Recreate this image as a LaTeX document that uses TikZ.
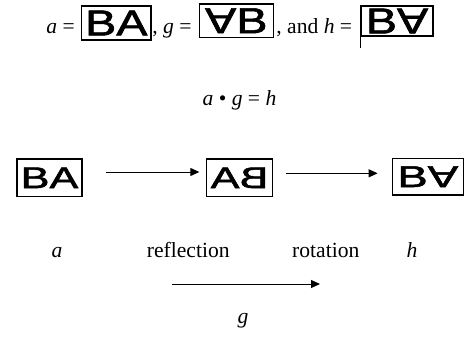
\documentclass[tikz,border=0pt]{standalone}
\usepackage{fontspec}
\setmainfont{Liberation Serif}
\newfontfamily\tilefont[FakeBold=1.5]{Liberation Sans}
\usepackage{graphicx}
\usetikzlibrary{arrows.meta,positioning}

\newcommand{\dnA}{\rotatebox[origin=c]{180}{A}}
\newcommand{\bkB}{\reflectbox{B}}

\tikzset{
  tile/.style={draw, line width=0.65pt, inner sep=0pt},
  toptile/.style={tile, font=\tilefont\fontsize{18}{18}\selectfont},
  rowtile/.style={tile, font=\tilefont\fontsize{15}{15}\selectfont},
  lbl/.style={anchor=base, inner sep=0pt, font=\fontsize{10.8}{13}\selectfont},
  lblw/.style={lbl, anchor=base west},
  move/.style={-{Triangle[length=4.5pt,width=4pt]}, line width=0.5pt},
}

\begin{document}
\begin{tikzpicture}[x=0.5pt,y=-0.5pt]
  \useasboundingbox (0,0) rectangle (466,339);
  % top line: a =, g =, and h =
  \node[lblw] (ta) at (46,33.5) {\textit{a} =};
  \node[toptile, minimum width=34.7pt, minimum height=17pt] (tba) at (116.3,23) {\scalebox{1.3}[1]{BA}};
  \node[lblw] (tg) at (152,33.5) {, \textit{g} =};
  \node[toptile, minimum width=37pt, minimum height=16.7pt] (tbg) at (236.3,20.7) {\scalebox{1.3}[1]{\dnA B}};
  \node[lblw] (th) at (276,33.5) {, and \textit{h} =};
  \node[toptile, minimum width=36pt, minimum height=15pt] (tbh) at (397,21) {\scalebox{1.3}[1]{B\dnA}};
  \draw[line width=0.65pt] (tbh.south west) -- ++(0,11);
  % product
  \node[lbl] (prod) at (239.5,105) {\textit{a} • \textit{g} = \textit{h}};
  % the three tiles
  \node[rowtile, minimum width=32.5pt, minimum height=18.9pt] (ra) at (49.5,177.8) {\scalebox{1.44}[1]{BA}};
  \node[rowtile, minimum width=33.3pt, minimum height=18.9pt] (rm) at (239.5,177.8) {\scalebox{1.44}[1]{A\bkB}};
  \node[rowtile, minimum width=35.5pt, minimum height=18.3pt] (rh) at (427.8,176.7) {\scalebox{1.52}[1]{B\dnA}};
  \draw[move] ([shift={(23,-5.8)}]ra.east) -- ([shift={(-6.2,-5.8)}]rm.west);
  \draw[move] ([shift={(12.2,-4.5)}]rm.east) -- ([shift={(-14,-3.4)}]rh.west);
  % labels
  \node[lbl] (la) at (57,257.3) {\textit{a}};
  \node[lbl] (lref) at (188.3,257.3) {reflection};
  \node[lbl] (lrot) at (325.8,257.3) {rotation};
  \node[lbl] (lh) at (412,257.3) {\textit{h}};
  \coordinate (gs) at (172,284);
  \coordinate (ge) at (320,284);
  \draw[move] (gs) -- (ge);
  \node[lbl] (lg) at (243,323) {\textit{g}};
\end{tikzpicture}
\end{document}
